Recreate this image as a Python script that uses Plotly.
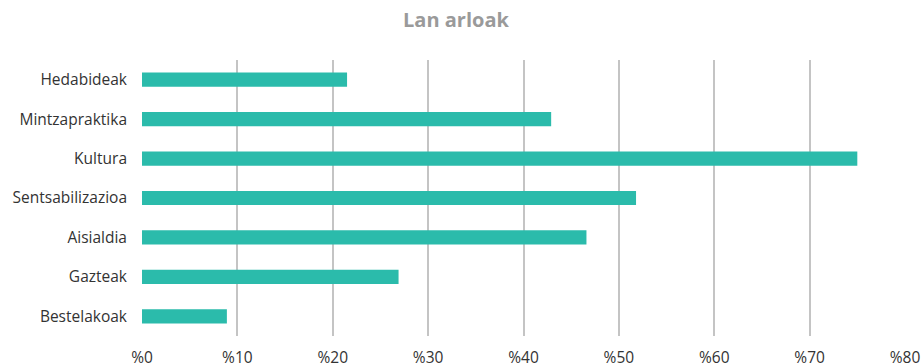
import plotly.graph_objects as go

categories = ["Hedabideak", "Mintzapraktika", "Kultura", "Sentsabilizazioa",
              "Aisialdia", "Gazteak", "Bestelakoak"]
values = [21.5, 42.9, 75.0, 51.8, 46.6, 26.9, 8.9]
tick_values = [0, 10, 20, 30, 40, 50, 60, 70, 80]
tick_labels = ["%0", "%10", "%20", "%30", "%40", "%50", "%60", "%70", "%80"]

fig = go.Figure(go.Bar(
    x=values, y=categories, orientation="h",
    marker=dict(color="#2bbbab", line=dict(width=0)),
    width=0.36,
))

fig.update_layout(
    width=923, height=364,
    margin=dict(l=142, r=18, t=60, b=28, autoexpand=False),
    paper_bgcolor="white", plot_bgcolor="white",
    font=dict(family="Open Sans", color="#333333", size=15.5),
    title=dict(text="<b>Lan arloak</b>", x=0.494, xanchor="center", y=0.945, yanchor="middle",
               font=dict(size=20, color="#9a9a9a", family="Open Sans")),
    showlegend=False,
)
fig.update_xaxes(range=[0, 80], tickvals=tick_values, ticktext=tick_labels,
                 showgrid=True, gridcolor="#c4c4c4", gridwidth=2, zeroline=False,
                 showline=False, ticks="", ticklabelstandoff=10, automargin=False,
                 tickfont=dict(size=15.5, color="#333333"))
fig.update_yaxes(autorange="reversed", showgrid=False, ticks="", ticklabelstandoff=14,
                 automargin=False, tickfont=dict(size=15.5, color="#333333"))

fig.write_html("out.html")
